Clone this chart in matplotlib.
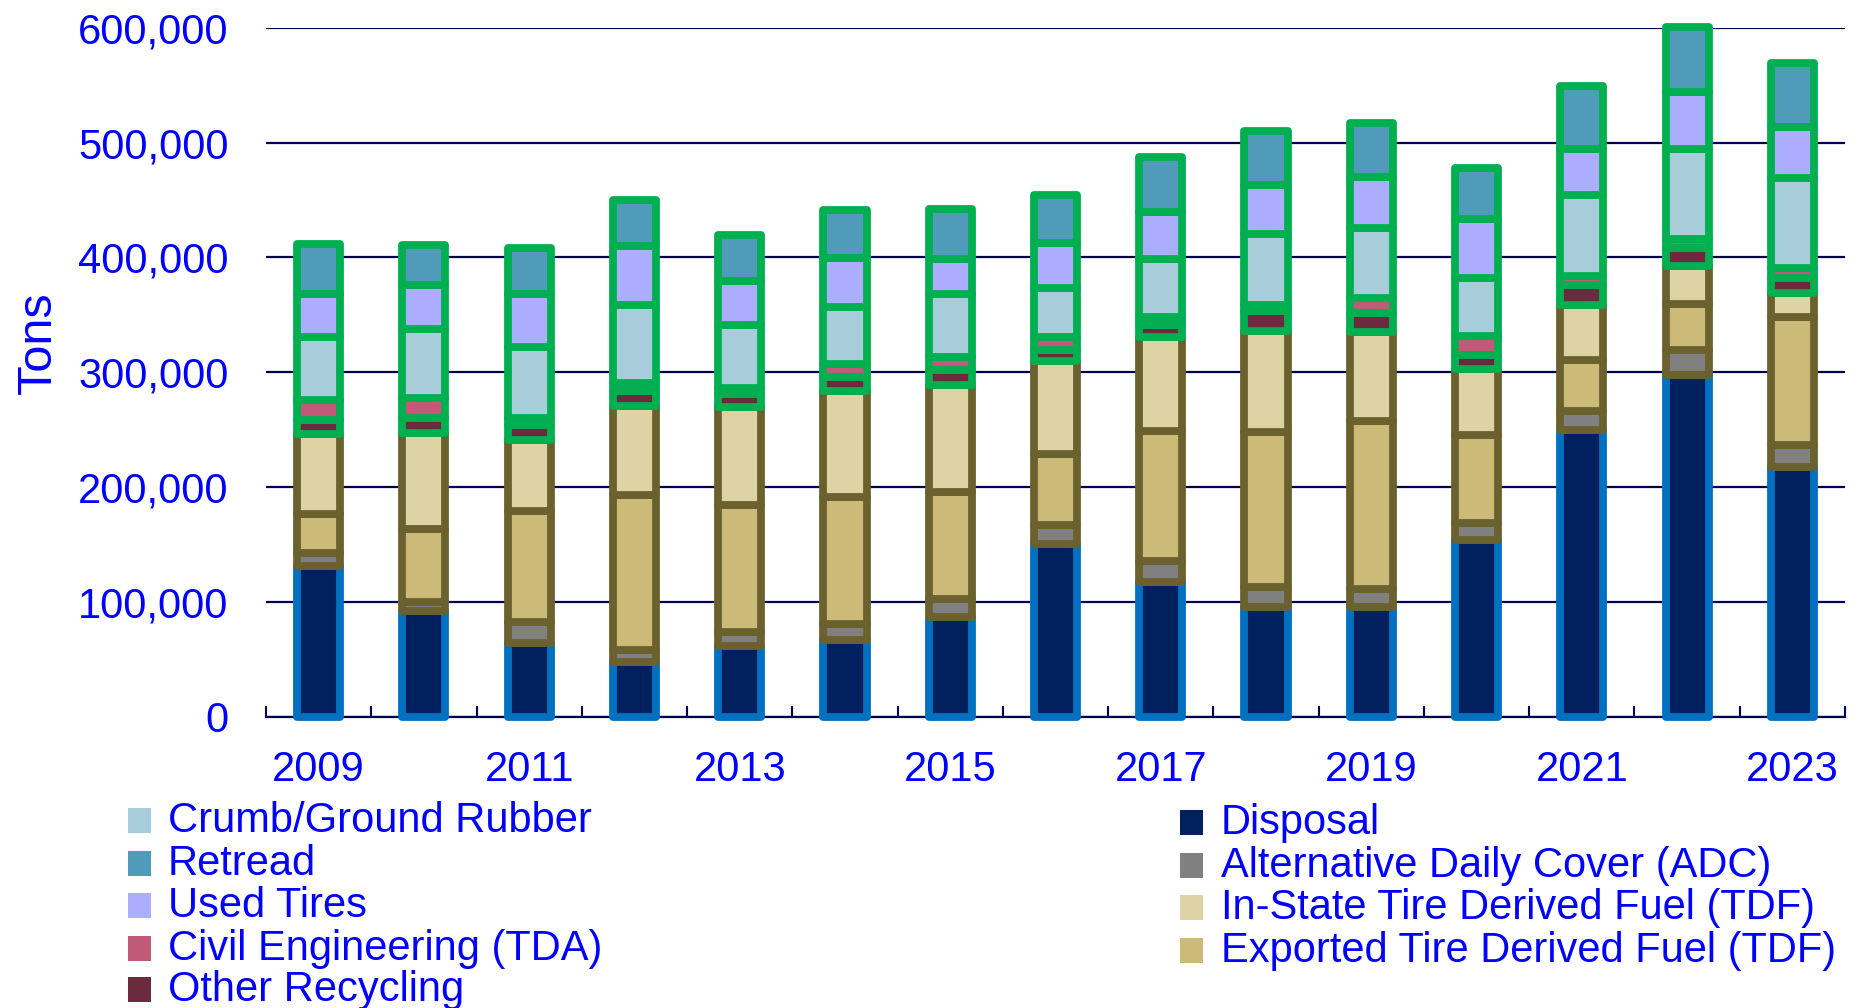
import numpy as np
import matplotlib.pyplot as plt
from matplotlib.patches import Rectangle
from matplotlib.ticker import FuncFormatter

plt.rcParams['font.family'] = ['Liberation Sans', 'DejaVu Sans']

years = [str(y) for y in range(2009, 2024)]

# tons
disposal = [131400, 92400, 64000, 48000, 62200, 67400, 87200, 150700, 117800, 95400, 95700, 154000, 249500, 297800, 217700]
adc = [11500, 7900, 18800, 10600, 11800, 13900, 15100, 16400, 17800, 17600, 15900, 14500, 16900, 21300, 18900]
exported_tdf = [33500, 63700, 96400, 134800, 110300, 110200, 93700, 62100, 113400, 135300, 145700, 77000, 43900, 40300, 111900]
instate_tdf = [70100, 83400, 61600, 77000, 85700, 91900, 93300, 80500, 81900, 88000, 78000, 57200, 48700, 33000, 20900]
other_recycling = [11800, 12400, 13200, 13300, 11300, 12100, 12400, 10100, 10400, 17000, 16700, 12100, 16900, 15600, 12900]
civil_eng = [17500, 17800, 6400, 6900, 4700, 12100, 11300, 10700, 6700, 5200, 12500, 16700, 7600, 8100, 8400]
crumb = [55000, 60200, 61400, 68000, 55000, 49200, 54800, 43000, 50300, 61700, 60700, 51000, 70400, 78100, 78100]
used_tires = [37200, 38000, 46200, 51700, 38200, 42600, 30900, 39300, 41000, 42400, 44700, 50600, 40700, 49500, 44700]
retread = [43500, 35400, 40200, 39500, 40100, 42000, 43300, 41900, 47900, 47400, 47500, 45100, 54700, 57100, 55500]

blue_edge = '#0070C0'
olive_edge = '#6B612E'
green_edge = '#00B050'
navy = '#000050'
txt = '#0000FF'

# (name, values, fill, edge) bottom to top
series = [
    ('Disposal', disposal, '#00215E', blue_edge),
    ('Alternative Daily Cover (ADC)', adc, '#808080', olive_edge),
    ('Exported Tire Derived Fuel (TDF)', exported_tdf, '#CBBA78', olive_edge),
    ('In-State Tire Derived Fuel (TDF)', instate_tdf, '#DDD3A5', olive_edge),
    ('Other Recycling', other_recycling, '#6C2A3F', green_edge),
    ('Civil Engineering (TDA)', civil_eng, '#C05A79', green_edge),
    ('Crumb/Ground Rubber', crumb, '#A7CDDB', green_edge),
    ('Used Tires', used_tires, '#ABADFF', green_edge),
    ('Retread', retread, '#509BBA', green_edge),
]
colors = {s[0]: s[2] for s in series}

fig = plt.figure(figsize=(18.55, 10.08), dpi=100)
ax = fig.add_axes([0.1434, 0.2887, 0.8512, 0.6839])

x = np.arange(len(years))
bottom = np.zeros(len(years))
for name, vals, fc, ec in series:
    ax.bar(x, vals, 0.41, bottom=bottom, color=fc, edgecolor=ec, linewidth=5.6,
           joinstyle='round', clip_on=False, zorder=3)
    bottom += np.array(vals)

ax.set_xlim(-0.5, len(years) - 0.5)
ax.set_ylim(0, 600000)
ax.set_yticks(np.arange(0, 600001, 100000))
ax.yaxis.set_major_formatter(FuncFormatter(lambda v, p: f'{int(v):,}'))
ax.set_xticks(x[::2])
ax.set_xticklabels(years[::2])
ax.set_xticks(np.arange(-0.5, len(years), 1), minor=True)

ax.tick_params(axis='y', length=0, pad=27, labelsize=30, labelcolor=txt)
ax.tick_params(axis='x', which='major', length=0, pad=24, labelsize=30, labelcolor=txt)
ax.tick_params(axis='x', which='minor', direction='in', length=8, width=1.5, color=navy)

ax.yaxis.grid(True, color=navy, linewidth=1.6)
ax.set_axisbelow(True)
for s in ['top', 'right', 'left']:
    ax.spines[s].set_visible(False)
ax.spines['bottom'].set_color(navy)
ax.spines['bottom'].set_linewidth(1.6)

fig.text(0.0205, 0.66, 'Tons', rotation=90, fontsize=35, color=txt,
         ha='center', va='center')

# legend, two columns
left_col = ['Crumb/Ground Rubber', 'Retread', 'Used Tires', 'Civil Engineering (TDA)', 'Other Recycling']
right_col = ['Disposal', 'Alternative Daily Cover (ADC)', 'In-State Tire Derived Fuel (TDF)',
             'Exported Tire Derived Fuel (TDF)']
left_y = [821, 864, 906, 949, 990]
right_y = [823, 866, 908, 951]
W, H = 1855.0, 1008.0
for names, ys, mx, tx in [(left_col, left_y, 128, 168), (right_col, right_y, 1180, 1221)]:
    for name, yy in zip(names, ys):
        fig.patches.append(Rectangle((mx / W, 1 - (yy + 12) / H), 23 / W, 25 / H,
                                     transform=fig.transFigure, facecolor=colors[name],
                                     edgecolor='none'))
        fig.text(tx / W, 1 - yy / H, name, fontsize=30, color=txt, ha='left', va='center')

fig.savefig('out.png', dpi=100)
